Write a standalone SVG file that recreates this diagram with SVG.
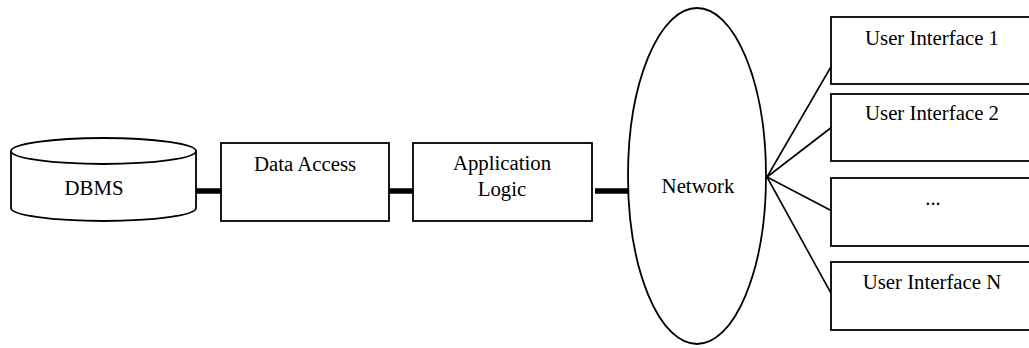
<svg xmlns="http://www.w3.org/2000/svg" width="1029" height="348" viewBox="0 0 1029 348">
<style>
.shape{fill:#fff;stroke:#000;stroke-width:1.8}
.thick{stroke:#000;stroke-width:5.5;fill:none}
.thin{stroke:#000;stroke-width:1.6;fill:none}
text{font-family:"Liberation Serif","Times New Roman",serif;font-size:20.8px;fill:#000;text-anchor:middle}
</style>
<rect width="1029" height="348" fill="#fff"/>
<g id="connectors">
<line class="thick" x1="196" y1="191" x2="222" y2="191"/>
<line class="thick" x1="389" y1="191" x2="414" y2="191"/>
<line class="thick" x1="595" y1="191" x2="629" y2="191"/>
<line class="thin" x1="767" y1="177" x2="832" y2="65"/>
<line class="thin" x1="767" y1="177" x2="832" y2="127"/>
<line class="thin" x1="767" y1="177" x2="832" y2="211"/>
<line class="thin" x1="767" y1="177" x2="832" y2="295"/>
</g>
<g id="dbms">
<path class="shape" d="M11,151 L11,208 A92.5,13 0 0 0 196,208 L196,151"/>
<ellipse class="shape" cx="103.5" cy="151" rx="92.5" ry="13"/>
<text x="94" y="195">DBMS</text>
</g>
<g id="data-access">
<rect class="shape" x="221" y="143" width="168" height="78"/>
<text x="305" y="171">Data Access</text>
</g>
<g id="application-logic">
<rect class="shape" x="413" y="143" width="179" height="78"/>
<text x="502" y="170">Application</text>
<text x="502" y="196">Logic</text>
</g>
<g id="network">
<ellipse class="shape" cx="697" cy="176" rx="69" ry="168"/>
<text x="698" y="193">Network</text>
</g>
<g id="ui1">
<rect class="shape" x="831" y="17" width="210" height="67"/>
<text x="932" y="45">User Interface 1</text>
</g>
<g id="ui2">
<rect class="shape" x="831" y="94" width="210" height="67"/>
<text x="932" y="120">User Interface 2</text>
</g>
<g id="ui-more">
<rect class="shape" x="831" y="178" width="210" height="68"/>
<text x="933" y="205">...</text>
</g>
<g id="uiN">
<rect class="shape" x="831" y="262" width="210" height="68"/>
<text x="932" y="289">User Interface N</text>
</g>
</svg>
